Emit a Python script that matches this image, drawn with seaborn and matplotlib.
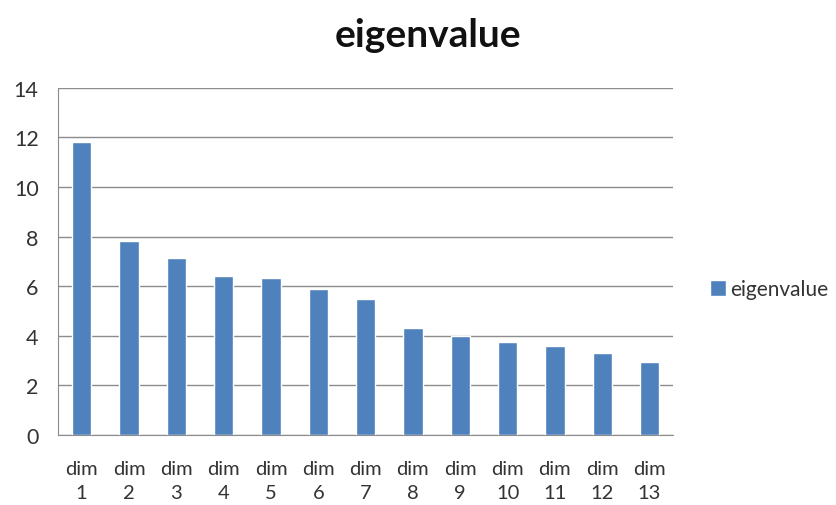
import matplotlib
matplotlib.use("Agg")
import matplotlib.pyplot as plt
import seaborn as sns
import pandas as pd

# values
dims = [f"dim\n{i}" for i in range(1, 14)]
eigenvalues = [11.82, 7.82, 7.14, 6.41, 6.35, 5.87, 5.48, 4.30, 3.99, 3.76, 3.61, 3.30, 2.96]
y_ticks = [0, 2, 4, 6, 8, 10, 12, 14]

df = pd.DataFrame({"dim": dims, "eigenvalue": eigenvalues})

sns.set_style("white")
plt.rcParams["font.family"] = ["Lato", "DejaVu Sans"]

fig = plt.figure(figsize=(8.37, 5.06), dpi=100)
ax = fig.add_axes([0.0693, 0.1383, 0.735, 0.686])

sns.barplot(data=df, x="dim", y="eigenvalue", color="#4F81BD", width=0.41,
            saturation=1, label="eigenvalue", ax=ax, zorder=3)

ax.set_ylim(0, 14)
ax.set_xlim(-0.5, len(dims) - 0.5)
ax.set_yticks(y_ticks)
ax.yaxis.grid(True, color="#8c8c8c", linewidth=1.0, zorder=0)
ax.set_axisbelow(True)
for side in ["top", "right"]:
    ax.spines[side].set_visible(False)
ax.spines["left"].set_color("#8c8c8c")
ax.spines["bottom"].set_color("#8c8c8c")

# x ticks at category boundaries, labels centred on bars
ax.set_xticks([i - 0.5 for i in range(len(dims) + 1)], minor=False)
ax.set_xticklabels([])
ax.set_xticks(range(len(dims)), minor=True)
ax.set_xticklabels(dims, minor=True, fontsize=14.5, color="#333333", linespacing=1.5,
                   va="top")
ax.tick_params(axis="x", which="major", length=6, color="#8c8c8c", direction="out")
ax.tick_params(axis="x", which="minor", length=0, pad=18)
ax.tick_params(axis="y", length=6, color="#8c8c8c", direction="out", labelsize=15.5,
               labelcolor="#333333", pad=8)
ax.set_xlabel("")
ax.set_ylabel("")

fig.suptitle("eigenvalue", x=0.511, y=0.965, fontsize=28, fontweight="bold", color="#111111")

ax.legend(loc="center left", bbox_to_anchor=(1.03, 0.42), frameon=False,
          handlelength=0.75, handleheight=0.75, handletextpad=0.2, fontsize=15,
          labelcolor="#333333")

fig.savefig("out.png", dpi=100)
